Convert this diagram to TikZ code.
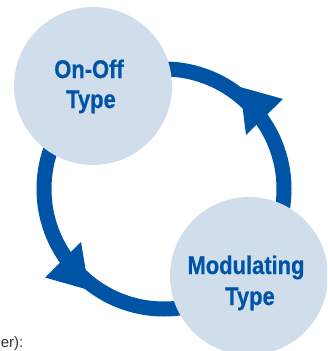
\documentclass[tikz,border=0pt]{standalone}
\usepackage{fontspec}
\setmainfont{Liberation Sans}
\newfontfamily\labelfont[FakeStretch=0.86,FakeBold=0.6]{Liberation Sans Bold}
\definecolor{ringblue}{HTML}{0054A6}
\definecolor{discblue}{HTML}{D0DEEC}
\definecolor{notegrey}{HTML}{333333}
\tikzset{
  disc/.style={circle,fill=discblue,minimum size=158pt,inner sep=0pt},
  disctext/.style={anchor=base,inner sep=0pt,text=ringblue,font=\labelfont\fontsize{25.5}{30}\selectfont},
  ring/.style={circle,draw=ringblue,line width=15pt,minimum size=240pt,inner sep=0pt},
  head/.style={fill=ringblue}
}
\begin{document}
\begin{tikzpicture}[x=1pt,y=-1pt]
\useasboundingbox (0,0) rectangle (327,351);
\clip (0,0) rectangle (327,351);
\node[ring] (loop) at (164,189) {};
\coordinate (h1a) at (283,99);
\coordinate (h1b) at (246,135);
\coordinate (h1c) at (240,87);
\coordinate (h2a) at (45,277.5);
\coordinate (h2b) at (81,242);
\coordinate (h2c) at (89,290);
\fill[head] (h1a) -- (h1b) -- (h1c) -- cycle;
\fill[head] (h2a) -- (h2b) -- (h2c) -- cycle;
\node[disc] (onoff) at (93,86) {};
\node[disc] (mod) at (249,276) {};
\node[disctext] (t1) at (89,78) {On-Off};
\node[disctext] (t2) at (91,108) {Type};
\node[disctext] (t3) at (246,274) {Modulating};
\node[disctext] (t4) at (250,305) {Type};
\node[anchor=base east,inner sep=0pt,text=notegrey,font=\fontsize{15}{17}\selectfont] (note) at (23.5,347) {er):};
\end{tikzpicture}
\end{document}
